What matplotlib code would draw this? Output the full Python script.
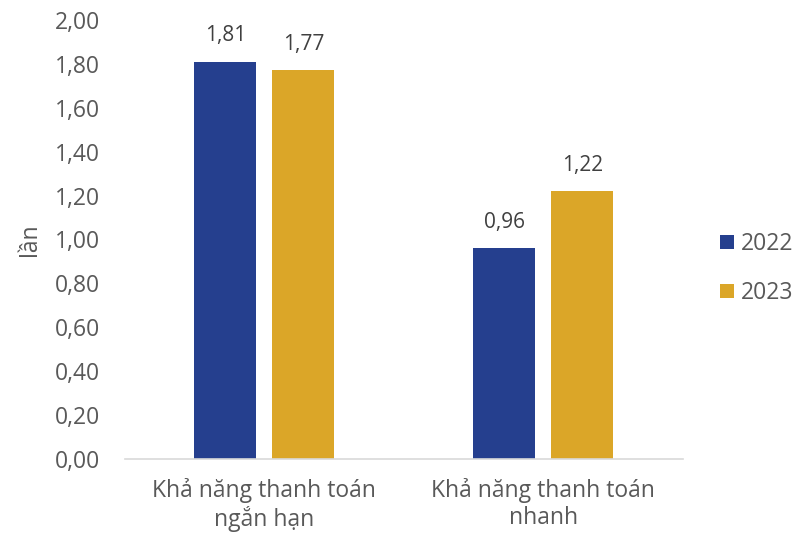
import matplotlib.pyplot as plt
from matplotlib.patches import Patch
from matplotlib.ticker import FuncFormatter, MultipleLocator
import numpy as np

categories = ["Khả năng thanh toán\nngắn hạn", "Khả năng thanh toán\nnhanh"]
years = ["2022", "2023"]
values_2022 = [1.81, 0.96]
values_2023 = [1.77, 1.22]
colors = ["#253F8E", "#DBA628"]
text_color = "#595959"

plt.rcParams["font.family"] = ["Open Sans", "DejaVu Sans"]
fs = 16.5

fig = plt.figure(figsize=(7.95, 5.37), dpi=100)
ax = fig.add_axes([0.157, 0.1453, 0.702, 0.8175])

x = np.arange(len(categories))
width = 0.222
offset = 0.14
series = [values_2022, values_2023]
for i, vals in enumerate(series):
    pos = x + (-offset if i == 0 else offset)
    bars = ax.bar(pos, vals, width=width, color=colors[i], zorder=2)
    for b, v in zip(bars, vals):
        ax.annotate(f"{v:.2f}".replace(".", ","), (b.get_x() + b.get_width() / 2, v),
                    xytext=(0, 11), textcoords="offset points", ha="center", va="bottom",
                    fontsize=15, color="#404040")

ax.set_xlim(-0.5, 1.5)
ax.set_ylim(0, 2.0)
ax.yaxis.set_major_locator(MultipleLocator(0.2))
ax.yaxis.set_major_formatter(FuncFormatter(lambda v, p: f"{v:.2f}".replace(".", ",")))
ax.set_xticks(x)
ax.set_xticklabels(categories, fontsize=fs, color=text_color, linespacing=1.15)
ax.tick_params(axis="y", length=0, labelsize=fs, labelcolor=text_color, pad=18)
ax.tick_params(axis="x", length=0, pad=14)

for s in ["top", "right", "left"]:
    ax.spines[s].set_visible(False)
ax.spines["bottom"].set_color("#D9D9D9")
ax.spines["bottom"].set_linewidth(1.2)

ax.set_ylabel("lần", fontsize=fs, color=text_color, labelpad=9)

handles = [Patch(facecolor=c) for c in colors]
fig.legend(handles, years, loc="center left", bbox_to_anchor=(0.906, 0.5),
           frameon=False, fontsize=fs, labelcolor=text_color, borderpad=0,
           borderaxespad=0, handlelength=0.6, handleheight=0.6,
           handletextpad=0.3, labelspacing=1.1)

fig.savefig("out.png", dpi=100)
